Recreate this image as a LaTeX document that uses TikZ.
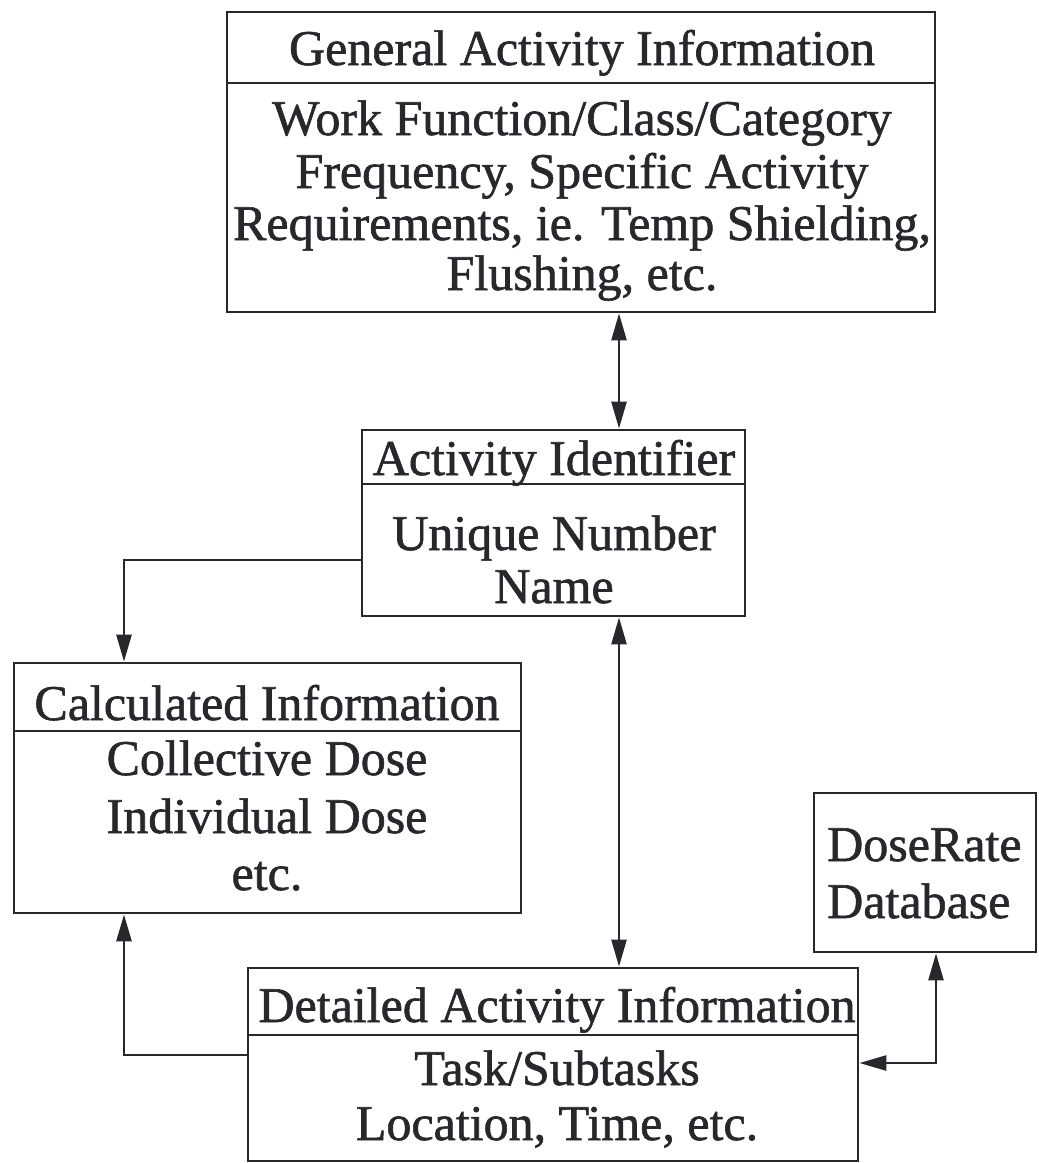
\documentclass[tikz,border=0pt]{standalone}
\usepackage{fontspec}
\setmainfont[FakeBold=1.2]{Liberation Serif}
\usetikzlibrary{arrows.meta}
\definecolor{ink}{RGB}{40,40,44}
\begin{document}
\begin{tikzpicture}[x=1pt,y=-1pt,
  box/.style={draw=ink,line width=2.8pt,rectangle,inner sep=0pt},
  txt/.style={anchor=base,inner sep=0pt,text=ink,font=\fontsize{50}{60}\selectfont},
  sep/.style={draw=ink,line width=2.6pt},
  conn/.style={draw=ink,line width=2.6pt,{Triangle[length=27pt,width=15pt]}-{Triangle[length=27pt,width=15pt]}},
  conr/.style={draw=ink,line width=2.6pt,-{Triangle[length=27pt,width=15pt]}}]
\useasboundingbox (0,0) rectangle (1039,1163);
% boxes
\node[box,minimum width=708pt,minimum height=300pt] (b1) at (581,162) {};
\node[box,minimum width=383pt,minimum height=186pt] (b2) at (553.5,523) {};
\node[box,minimum width=507pt,minimum height=250pt] (b3) at (267.5,788) {};
\node[box,minimum width=610pt,minimum height=193pt] (b4) at (553,1064.5) {};
\node[box,minimum width=222pt,minimum height=159pt] (b5) at (925,872.5) {};
% separators
\coordinate (s1) at (0,83);
\coordinate (s2) at (0,484);
\coordinate (s3) at (0,731);
\coordinate (s4) at (0,1035);
\draw[sep] (b1.west |- s1) -- (b1.east |- s1);
\draw[sep] (b2.west |- s2) -- (b2.east |- s2);
\draw[sep] (b3.west |- s3) -- (b3.east |- s3);
\draw[sep] (b4.west |- s4) -- (b4.east |- s4);
% texts box 1
\node[txt] (t1h) at (582,65) {General Activity Information};
\node[txt] (t1a) at (582,135) {Work Function/Class/Category};
\node[txt] (t1b) at (582,188) {Frequency, Specific Activity};
\node[txt] (t1c) at (582,240) {Requirements, ie. Temp Shielding,};
\node[txt] (t1d) at (582,290) {Flushing, etc.};
% box 2
\node[txt] (t2h) at (554,475) {Activity Identifier};
\node[txt] (t2a) at (554,550) {Unique Number};
\node[txt] (t2b) at (554,603) {Name};
% box 3
\node[txt] (t3h) at (267,720) {Calculated Information};
\node[txt] (t3a) at (267,775) {Collective Dose};
\node[txt] (t3b) at (267,833) {Individual Dose};
\node[txt] (t3c) at (267,890) {etc.};
% box 4
\node[txt] (t4h) at (557,1022) {Detailed Activity Information};
\node[txt] (t4a) at (557,1085) {Task/Subtasks};
\node[txt] (t4b) at (557,1140) {Location, Time, etc.};
% box 5
\node[txt,anchor=base west] (t5a) at (827,861) {DoseRate};
\node[txt,anchor=base west] (t5b) at (827,918) {Database};
% connectors
\coordinate (mx) at (619,0);
\coordinate (c1) at (124,560);
\coordinate (c2) at (124,1055);
\coordinate (c5) at (936,1063);
\draw[conn] (b1.south -| mx) -- (b2.north -| mx);
\draw[conn] (b2.south -| mx) -- (b4.north -| mx);
\draw[conr] (b2.west |- c1) -| (b3.north -| c1);
\draw[conr] (b4.west |- c2) -| (b3.south -| c2);
\draw[conn] (b4.east |- c5) -| (b5.south -| c5);
\end{tikzpicture}
\end{document}
